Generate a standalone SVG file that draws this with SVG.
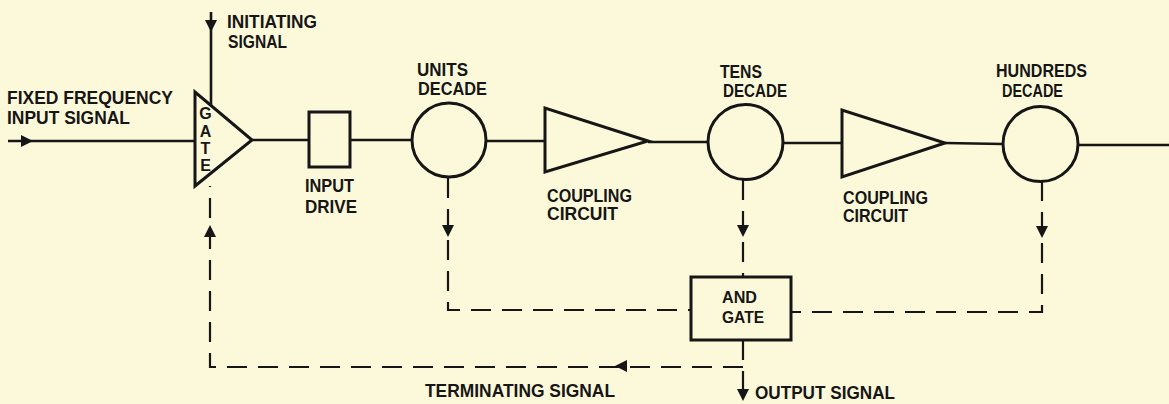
<svg xmlns="http://www.w3.org/2000/svg" xmlns:xlink="http://www.w3.org/1999/xlink" width="1169" height="404" viewBox="0 0 1169 404">
<style>
.bg{fill:#fcf9da}
.sh{fill:none;stroke:#161616;stroke-width:3;stroke-linejoin:miter}
.ln{fill:none;stroke:#161616;stroke-width:2.6}
.dl{fill:none;stroke:#161616;stroke-width:2.2;stroke-dasharray:20 11}
.ah{fill:#161616}
text{font-family:"Liberation Sans",Arial,sans-serif;font-weight:bold;fill:#161616;font-size:18px}
.sm{font-size:17px}
.gt{font-size:16px;text-anchor:middle}
</style>
<defs>
<path id="ah" d="M0 0 L-12 -6 L-12 6 Z"/>
</defs>
<rect class="bg" x="0" y="0" width="1169" height="404"/>

<g id="connectors">
<line class="ln" x1="8" y1="141" x2="195" y2="141"/>
<line class="ln" x1="211" y1="12" x2="211" y2="105"/>
<line class="ln" x1="252" y1="140" x2="309" y2="140"/>
<line class="ln" x1="350" y1="140" x2="412" y2="140"/>
<line class="ln" x1="486" y1="141" x2="545" y2="141"/>
<line class="ln" x1="648" y1="142" x2="708" y2="142"/>
<line class="ln" x1="783" y1="143" x2="842" y2="143"/>
<line class="ln" x1="945" y1="143" x2="1003" y2="144"/>
<line class="ln" x1="1078" y1="145" x2="1169" y2="145"/>
<path class="dl" d="M448 178 V310 H691"/>
<path class="dl" d="M743 180 V277"/>
<path class="dl" d="M1042 181 V312 H791"/>
<path class="dl" d="M743 340 V402"/>
<path class="dl" d="M743 367 H210 V186"/>
<use xlink:href="#ah" class="ah" transform="translate(33,141)"/>
<use xlink:href="#ah" class="ah" transform="translate(211,32) rotate(90)"/>
<use xlink:href="#ah" class="ah" transform="translate(448,237) rotate(90)"/>
<use xlink:href="#ah" class="ah" transform="translate(743,237) rotate(90)"/>
<use xlink:href="#ah" class="ah" transform="translate(1042,238) rotate(90)"/>
<use xlink:href="#ah" class="ah" transform="translate(210,225) rotate(-90)"/>
<use xlink:href="#ah" class="ah" transform="translate(615,366) rotate(180)"/>
<use xlink:href="#ah" class="ah" transform="translate(743,401) rotate(90)"/>
</g>

<g id="input-label">
<text x="7" y="104" textLength="166" lengthAdjust="spacingAndGlyphs">FIXED FREQUENCY</text>
<text x="7" y="124" textLength="123" lengthAdjust="spacingAndGlyphs">INPUT SIGNAL</text>
</g>

<g id="initiating-label">
<text x="227" y="28" textLength="90" lengthAdjust="spacingAndGlyphs">INITIATING</text>
<text x="228" y="48" textLength="59" lengthAdjust="spacingAndGlyphs">SIGNAL</text>
</g>

<g id="gate">
<polygon class="sh" points="195,92 195,186 252,140"/>
<text class="gt" x="205.5" y="119">G</text>
<text class="gt" x="205.5" y="137">A</text>
<text class="gt" x="205.5" y="154">T</text>
<text class="gt" x="205.5" y="171">E</text>
</g>

<g id="input-drive">
<rect class="sh" x="309" y="112" width="41" height="55"/>
<text x="305" y="192" textLength="49" lengthAdjust="spacingAndGlyphs">INPUT</text>
<text x="305" y="213" textLength="52" lengthAdjust="spacingAndGlyphs">DRIVE</text>
</g>

<g id="units-decade">
<circle class="sh" cx="449" cy="140" r="37"/>
<text x="417" y="76" textLength="51" lengthAdjust="spacingAndGlyphs">UNITS</text>
<text x="418" y="95" textLength="69" lengthAdjust="spacingAndGlyphs">DECADE</text>
</g>

<g id="coupling-1">
<polygon class="sh" points="545,108 545,172 648,141"/>
<text x="547" y="202" textLength="85" lengthAdjust="spacingAndGlyphs">COUPLING</text>
<text x="547" y="220" textLength="71" lengthAdjust="spacingAndGlyphs">CIRCUIT</text>
</g>

<g id="tens-decade">
<circle class="sh" cx="745.5" cy="142" r="37.5"/>
<text x="720" y="78" textLength="42" lengthAdjust="spacingAndGlyphs">TENS</text>
<text x="723" y="97" textLength="64" lengthAdjust="spacingAndGlyphs">DECADE</text>
</g>

<g id="coupling-2">
<polygon class="sh" points="842,110 842,177 945,143"/>
<text x="843" y="204" textLength="85" lengthAdjust="spacingAndGlyphs">COUPLING</text>
<text x="843" y="222" textLength="65" lengthAdjust="spacingAndGlyphs">CIRCUIT</text>
</g>

<g id="hundreds-decade">
<circle class="sh" cx="1040.5" cy="144" r="37.5"/>
<text x="996" y="77" textLength="91" lengthAdjust="spacingAndGlyphs">HUNDREDS</text>
<text x="1002" y="97" textLength="61" lengthAdjust="spacingAndGlyphs">DECADE</text>
</g>

<g id="and-gate">
<rect class="sh" x="691" y="277" width="100" height="63"/>
<text class="sm" x="722" y="303" textLength="35" lengthAdjust="spacingAndGlyphs">AND</text>
<text class="sm" x="722" y="323" textLength="42" lengthAdjust="spacingAndGlyphs">GATE</text>
</g>

<g id="terminating-label">
<text x="425" y="397" textLength="190" lengthAdjust="spacingAndGlyphs">TERMINATING SIGNAL</text>
</g>

<g id="output-label">
<text x="755" y="399" textLength="140" lengthAdjust="spacingAndGlyphs">OUTPUT SIGNAL</text>
</g>
</svg>
